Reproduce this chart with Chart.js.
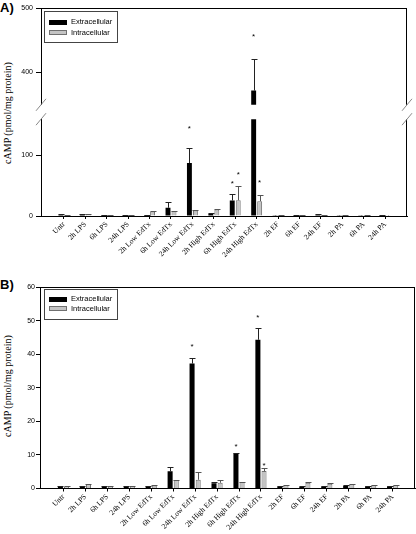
<!DOCTYPE html>
<html>
<head>
<meta charset="utf-8">
<script src="https://cdn.jsdelivr.net/npm/chart.js"></script>
<style>
body { margin: 0; background: #fff; width: 416px; height: 534px; position: relative; overflow: hidden; font-family: 'Liberation Sans', Arial, sans-serif; }
canvas { position: absolute; left: 0; }
.panel { position: absolute; left: 0; font: bold 13px 'Liberation Sans', Arial, sans-serif; line-height: 13px; }
.ytitle { position: absolute; font: 10px 'Liberation Serif', 'Times New Roman', serif; white-space: nowrap; transform: translate(-50%, -50%) rotate(-90deg); }
.legend { position: absolute; left: 44px; width: 74px; height: 32px; border: 1px solid #444; box-sizing: border-box; font-size: 7.5px; }
.legend .sw { position: absolute; left: 4px; width: 18px; height: 5px; box-sizing: border-box; }
.legend .tx { position: absolute; left: 26px; line-height: 8px; }
</style>
</head>
<body>
<div class="panel" style="top:1px">A)</div>
<div class="panel" style="top:278px">B)</div>
<div class="ytitle" style="left:7px; top:113px">cAMP (pmol/mg protein)</div>
<div class="ytitle" style="left:7px; top:386px">cAMP (pmol/mg protein)</div>
<canvas id="aTop"></canvas>
<canvas id="aBottom"></canvas>
<canvas id="bChart"></canvas>
<div class="legend" id="legA" style="top:11px"></div>
<div class="legend" id="legB" style="top:289px; height:31px"></div>
<script>
const categories = ['Untr', '2h LPS', '6h LPS', '24h LPS', '2h Low EdTx', '6h Low EdTx', '24h Low EdTx',
  '2h High EdTx', '6h High EdTx', '24h High EdTx', '2h EF', '6h EF', '24h EF', '2h PA', '6h PA', '24h PA'];
const seriesNames = ['Extracellular', 'Intracellular'];

// panel A
const extA = [2, 2, 1.5, 1, 1.5, 13.6, 87.6, 3.8, 25.6, 372, 0.5, 1, 2, 0.5, 0.5, 1.5];
const extErrA = [0.5, 0.5, 0.3, 0.3, 0.3, 9.2, 24.4, 1.2, 11.4, 49, 0.2, 0.3, 0.5, 0.2, 0.2, 0.3];
const intA = [1, 3, 1, 1, 7.6, 8.1, 9.2, 10.9, 26, 24.5, 1, 1, 1, 1, 1, 0.5];
const intErrA = [0.3, 0.5, 0.3, 0.3, 0.8, 0.5, 1, 0.8, 23, 10.9, 0.2, 0.2, 0.2, 0.2, 0.2, 0.2];
const starExtA = [null, null, null, null, null, null, 148, null, 56.6, 459, null, null, null, null, null, null];
const starIntA = [null, null, null, null, null, null, null, null, 72, 59, null, null, null, null, null, null];
const ticksAUpper = [400, 500];
const ticksALower = [0, 100];

// panel B
const extB = [0.6, 0.6, 0.5, 0.6, 0.7, 5.1, 37.2, 1.6, 10.5, 44.3, 0.6, 0.5, 0.6, 0.8, 0.7, 0.7];
const extErrB = [0.1, 0.1, 0.1, 0.1, 0.1, 1.4, 1.8, 0.3, 0.1, 3.6, 0.1, 0.1, 0.1, 0.1, 0.1, 0.1];
const intB = [0.6, 1.3, 0.6, 0.6, 0.9, 2.5, 2.6, 1.7, 1.9, 5.2, 1.0, 1.7, 1.4, 1.3, 1.0, 1.0];
const intErrB = [0.1, 0.1, 0.1, 0.1, 0.1, 0.05, 2.3, 0.8, 0.1, 0.9, 0.1, 0.1, 0.1, 0.1, 0.1, 0.1];
const starExtB = [null, null, null, null, null, null, 42.8, null, 13.2, 51.4, null, null, null, null, null, null];
const starIntB = [null, null, null, null, null, null, null, null, null, 7.3, null, null, null, null, null, null];
const ticksB = [0, 10, 20, 30, 40, 50, 60];

Chart.defaults.font.family = "'Liberation Sans', Arial, sans-serif";
Chart.defaults.color = '#000';

// error bars (upper half only) and significance stars
const errorPlugin = {
  id: 'errorBars',
  afterDatasetsDraw(chart) {
    const ctx = chart.ctx, a = chart.chartArea;
    ctx.save();
    ctx.beginPath();
    ctx.rect(a.left, a.top - 1, a.right - a.left, a.bottom - a.top + 1);
    ctx.clip();
    chart.data.datasets.forEach((ds, i) => {
      const meta = chart.getDatasetMeta(i);
      ctx.strokeStyle = ds.errColor;
      ctx.lineWidth = 1;
      meta.data.forEach((bar, j) => {
        const top = meta.yScale.getPixelForValue(ds.data[j].y + ds.errors[j]);
        const x = Math.round(bar.x) + 0.5;
        const y1 = Math.round(top) + 0.5;
        ctx.beginPath();
        ctx.moveTo(x, bar.y);
        ctx.lineTo(x, y1);
        ctx.moveTo(x - 3, y1);
        ctx.lineTo(x + 3, y1);
        ctx.stroke();
      });
    });
    ctx.restore();

    ctx.save();
    ctx.fillStyle = '#000';
    ctx.font = "8px 'Liberation Sans', Arial, sans-serif";
    ctx.textAlign = 'center';
    ctx.textBaseline = 'alphabetic';
    chart.data.datasets.forEach((ds, i) => {
      const meta = chart.getDatasetMeta(i);
      ds.stars.forEach((s, j) => {
        if (s == null) return;
        const py = meta.yScale.getPixelForValue(s);
        if (py < a.top - 2 || py > a.bottom) return;
        ctx.fillText('*', meta.data[j].x, py + 4.5);
      });
    });
    ctx.restore();
  }
};

// right/top frame lines and axis-break slashes
const framePlugin = f => ({
  id: 'frame',
  afterDraw(chart) {
    const ctx = chart.ctx, a = chart.chartArea;
    const r = Math.round(a.right) - 0.5;
    ctx.save();
    ctx.strokeStyle = '#000';
    ctx.lineWidth = 1;
    ctx.beginPath();
    ctx.moveTo(r, a.top);
    ctx.lineTo(r, a.bottom);
    if (f.top) {
      const t = Math.round(a.top) + 0.5;
      ctx.moveTo(a.left, t);
      ctx.lineTo(r + 0.5, t);
    }
    ctx.stroke();
    if (f.brk) {
      ctx.strokeStyle = '#888';
      const yb = f.brk === 'bottom' ? a.bottom : a.top;
      [a.left, a.right].forEach(x => {
        ctx.beginPath();
        ctx.moveTo(x - 5, yb + 6);
        ctx.lineTo(x + 5, yb - 6);
        ctx.stroke();
      });
    }
    ctx.restore();
  }
});

function barChart(id, top, height, o) {
  const cv = document.getElementById(id);
  cv.width = 416;
  cv.height = height;
  cv.style.top = top + 'px';
  const shared = { categoryPercentage: 0.56, barPercentage: 0.82, borderSkipped: 'start' };
  return new Chart(cv, {
    type: 'bar',
    data: {
      datasets: [
        Object.assign({
          label: seriesNames[0],
          data: categories.map((c, i) => ({ x: i, y: o.ext[i] })),
          errors: o.extErr, stars: o.extStar,
          backgroundColor: '#000', borderColor: '#000', borderWidth: 0, errColor: '#222'
        }, shared),
        Object.assign({
          label: seriesNames[1],
          data: categories.map((c, i) => ({ x: i, y: o.int[i] })),
          errors: o.intErr, stars: o.intStar,
          backgroundColor: '#c4c4c4', borderColor: '#707070', borderWidth: 1, errColor: '#555'
        }, shared)
      ]
    },
    options: {
      responsive: false,
      animation: false,
      layout: { padding: o.pad },
      plugins: { legend: { display: false }, tooltip: { enabled: false } },
      scales: {
        x: {
          type: 'linear', display: o.showX, min: -1.07, max: 16.02, offset: false,
          grid: { offset: false, drawOnChartArea: false, tickLength: 3, color: '#000' },
          border: { color: '#000' },
          afterBuildTicks: s => { s.ticks = categories.map((c, i) => ({ value: i })); },
          afterFit: s => { s.height = o.xH; },
          ticks: {
            autoSkip: false, maxRotation: 45, minRotation: 45, padding: 1, color: '#000',
            font: { family: "'Liberation Serif', 'Times New Roman', serif", size: 7.5 },
            callback: v => categories[v]
          }
        },
        y: {
          min: o.min, max: o.max,
          afterBuildTicks: s => { s.ticks = o.ticks.map(v => ({ value: v })); },
          afterFit: s => { s.width = o.yW; },
          grid: { drawOnChartArea: false, tickLength: o.tl, color: '#000' },
          border: { color: '#000' },
          ticks: { padding: o.tp, color: '#000', font: { size: 7 } }
        }
      }
    },
    plugins: [errorPlugin, framePlugin(o.frame)]
  });
}

barChart('aTop', 0, 112, {
  ext: extA, extErr: extErrA, int: intA, intErr: intErrA, extStar: starExtA, intStar: starIntA,
  min: 350, max: 500, ticks: ticksAUpper, showX: false, xH: 0, yW: 41, tl: 5, tp: 3,
  pad: { top: 8, right: 9, bottom: 5, left: 0 }, frame: { top: true, brk: 'bottom' }
});
barChart('aBottom', 112, 160, {
  ext: extA, extErr: extErrA, int: intA, intErr: intErrA, extStar: starExtA, intStar: starIntA,
  min: 0, max: 160, ticks: ticksALower, showX: true, xH: 56, yW: 41, tl: 5, tp: 3,
  pad: { top: 6, right: 9, bottom: 0, left: 0 }, frame: { top: false, brk: 'top' }
});
barChart('bChart', 272, 262, {
  ext: extB, extErr: extErrB, int: intB, intErr: intErrB, extStar: starExtB, intStar: starIntB,
  min: 0, max: 60, ticks: ticksB, showX: true, xH: 45.5, yW: 40, tl: 4, tp: 1,
  pad: { top: 15, right: 1, bottom: 0, left: 0 }, frame: { top: true }
});

// legends
const swatches = [
  { bg: '#000', bd: '#000' },
  { bg: '#c4c4c4', bd: '#707070' }
];
function legend(id, rowTops) {
  const box = document.getElementById(id);
  seriesNames.forEach((name, i) => {
    const sw = document.createElement('div');
    sw.className = 'sw';
    sw.style.top = (rowTops[i] - 2.5) + 'px';
    sw.style.background = swatches[i].bg;
    sw.style.border = '1px solid ' + swatches[i].bd;
    box.appendChild(sw);
    const tx = document.createElement('div');
    tx.className = 'tx';
    tx.style.top = (rowTops[i] - 4) + 'px';
    tx.textContent = name;
    box.appendChild(tx);
  });
}
legend('legA', [10, 20.5]);
legend('legB', [9, 18.5]);
</script>
</body>
</html>
